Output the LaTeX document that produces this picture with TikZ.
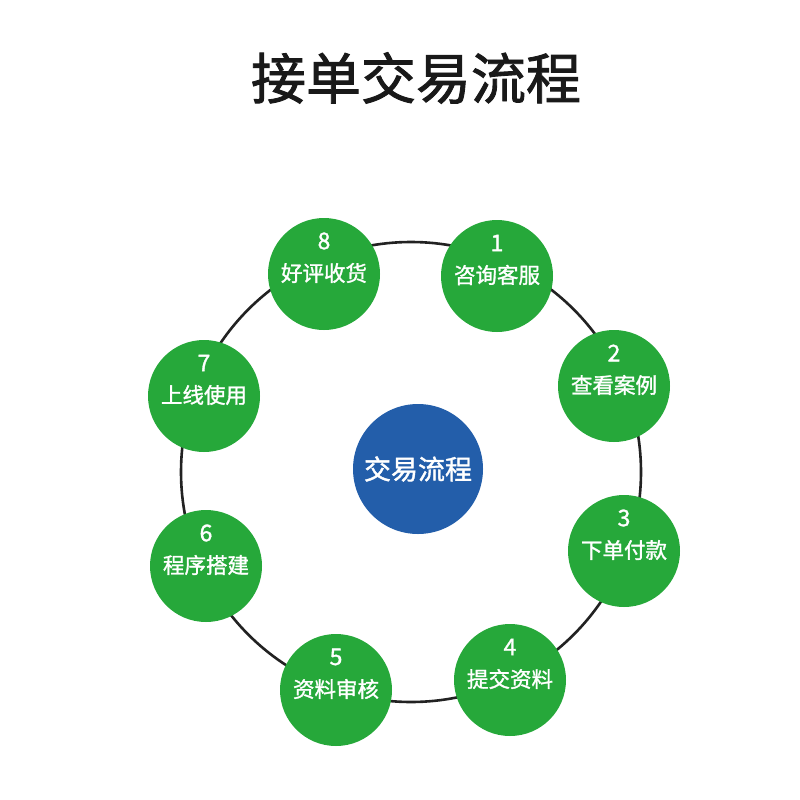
\documentclass[tikz,border=0pt]{standalone}
\usepackage{fontspec}
\newfontfamily\cjkmid[FakeBold=1.6]{Noto Sans CJK SC}
\newfontfamily\cjksemi[FakeBold=1.4]{Noto Sans CJK SC}
\definecolor{stepgreen}{RGB}{38,168,58}
\definecolor{hubblue}{RGB}{35,94,170}
\definecolor{ringgray}{RGB}{34,34,34}
\begin{document}
\begin{tikzpicture}[x=1pt,y=-1pt,
  stepnode/.style={circle,fill=stepgreen,minimum size=112pt,inner sep=0pt},
  steplabel/.style={text=white,font=\cjksemi\fontsize{21.5}{24}\selectfont},
  numlabel/.style={text=white,font=\cjksemi\fontsize{23}{26}\selectfont}]
\useasboundingbox (0,0) rectangle (800,800);
\fill[white] (0,0) rectangle (800,800);
\node[font=\cjkmid\fontsize{55}{60}\selectfont,text=black!90] (title) at (416,78) {接单交易流程};
\node[circle,draw=ringgray,line width=2.6pt,minimum size=460pt,inner sep=0pt] (ring) at (411,472) {};
\node[circle,fill=hubblue,minimum size=130pt,inner sep=0pt,text=white,font=\cjksemi\fontsize{27}{30}\selectfont] (hub) at (418,469) {交易流程};
\foreach \n/\x/\y/\t in {1/497/276/咨询客服,2/614/386/查看案例,3/624/551/下单付款,4/510/680/提交资料,5/336/690/资料审核,6/206/566/程序搭建,7/204/396/上线使用,8/324/274/好评收货}{
  \node[stepnode] (s\n) at (\x,\y) {};
  \node[numlabel] (n\n) at ([yshift=33pt]s\n.center) {\n};
  \node[steplabel] (t\n) at ([yshift=1pt]s\n.center) {\t};
}
\end{tikzpicture}
\end{document}
